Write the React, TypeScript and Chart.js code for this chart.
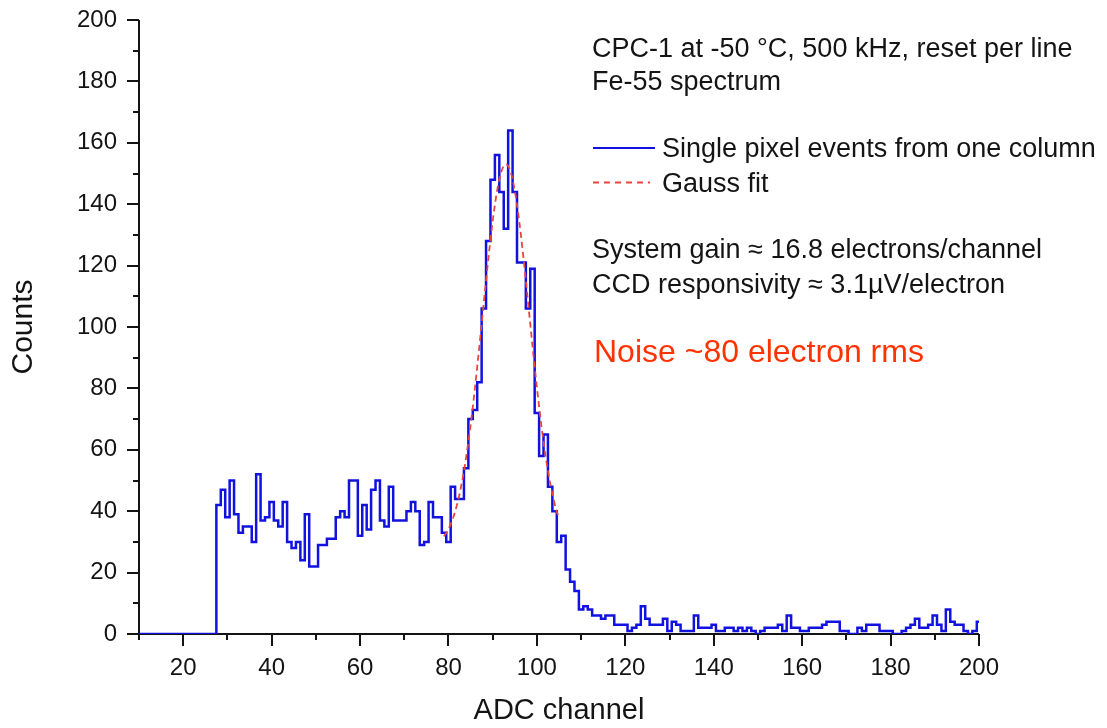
import React, { useEffect, useRef } from 'react';
import { Chart, registerables } from 'chart.js';

Chart.register(...registerables);

// ---- data ----
const FIRST_CHANNEL = 10;
// counts per ADC channel, channels 10..200
const spectrumCounts: number[] = [
  0, 0, 0, 0, 0, 0, 0, 0, 0, 0, 0, 0, 0, 0, 0, 0, 0, 0,
  42, 47, 38, 50, 39, 33, 35, 35, 30, 52,
  37, 38, 43, 37, 35, 43, 30, 28, 30, 24,
  39, 22, 22, 29, 29, 31, 31, 38, 40, 38,
  50, 50, 32, 42, 34, 47, 50, 37, 35, 48,
  37, 37, 37, 40, 43, 40, 29, 30, 43, 38,
  38, 33, 30, 48, 44, 44, 54, 70, 73, 82,
  106, 128, 148, 156, 144, 132, 164, 144, 121, 121,
  106, 119, 72, 58, 65, 48, 40, 30, 32, 21,
  17, 14, 8, 9, 8, 6, 6, 5, 6, 6,
  3, 3, 3, 1, 2, 3, 9, 5, 3, 3,
  3, 5, 1, 4, 3, 1, 1, 1, 6, 2,
  2, 2, 3, 1, 1, 2, 2, 1, 2, 1,
  2, 1, 0, 1, 2, 2, 2, 3, 1, 6,
  2, 2, 1, 1, 2, 2, 2, 3, 4, 4,
  4, 1, 1, 0, 0, 2, 1, 3, 3, 3,
  1, 1, 1, 0, 0, 1, 2, 3, 5, 2,
  2, 3, 6, 3, 1, 8, 4, 3, 3, 1,
  0, 1, 4,
];

const fitChannels: number[] = [
  79, 80, 81, 82, 83, 84, 85, 86, 87, 88, 89, 90, 91, 92,
  93, 94, 95, 96, 97, 98, 99, 100, 101, 102, 103, 104, 105,
];
const fitCounts: number[] = [
  31.8, 34.2, 37.6, 42.5, 49.1, 57.6, 68, 80.3, 93.9, 108.1, 122, 134.5, 144.4, 150.8,
  153, 150.8, 144.4, 134.5, 122, 108.1, 93.9, 80.3, 68, 57.6, 49.1, 42.5, 37.6,
];

const xTickValues: number[] = [20, 40, 60, 80, 100, 120, 140, 160, 180, 200];
const yTickValues: number[] = [0, 20, 40, 60, 80, 100, 120, 140, 160, 180, 200];

const seriesLabels: string[] = ['Single pixel events from one column', 'Gauss fit'];
const headerLines: string[] = ['CPC-1 at -50 °C, 500 kHz, reset per line', 'Fe-55 spectrum'];
const gainLines: string[] = ['System gain ≈ 16.8 electrons/channel', 'CCD responsivity ≈ 3.1µV/electron'];
const noiseNote = 'Noise ~80 electron rms';

// ---- styles ----
const FONT = "'Liberation Sans', Arial, Helvetica, sans-serif";
const BLUE = '#1212e0';
const RED = '#e8453c';
const INK = '#141414';
const NOISE_RED = '#ff3300';

const axesPlugin = {
  id: 'customAxes',
  beforeDatasetsDraw(chart: any) {
    const { ctx, chartArea, scales } = chart;
    const x = scales.x;
    const y = scales.y;
    ctx.save();
    ctx.strokeStyle = INK;
    ctx.lineWidth = 2;
    ctx.beginPath();
    ctx.moveTo(chartArea.left, chartArea.top);
    ctx.lineTo(chartArea.left, chartArea.bottom);
    ctx.lineTo(chartArea.right, chartArea.bottom);
    ctx.stroke();
    ctx.beginPath();
    for (let v = x.min; v <= x.max; v += 10) {
      const px = Math.round(x.getPixelForValue(v));
      const len = v % 20 === 0 ? 12 : 6;
      ctx.moveTo(px, chartArea.bottom);
      ctx.lineTo(px, chartArea.bottom + len);
    }
    for (let v = y.min; v <= y.max; v += 10) {
      const py = Math.round(y.getPixelForValue(v));
      const len = v % 20 === 0 ? 12 : 6;
      ctx.moveTo(chartArea.left - len, py);
      ctx.lineTo(chartArea.left, py);
    }
    ctx.stroke();
    ctx.restore();
  },
  afterDraw(chart: any) {
    const { ctx } = chart;
    ctx.save();
    ctx.fillStyle = INK;
    ctx.textBaseline = 'alphabetic';
    ctx.textAlign = 'left';
    ctx.font = `27px ${FONT}`;
    ctx.fillText(headerLines[0], 592, 57);
    ctx.fillText(headerLines[1], 592, 90);

    // legend
    ctx.strokeStyle = BLUE;
    ctx.lineWidth = 2;
    ctx.beginPath();
    ctx.moveTo(593, 148);
    ctx.lineTo(655, 148);
    ctx.stroke();
    ctx.strokeStyle = RED;
    ctx.lineWidth = 1.8;
    ctx.setLineDash([6, 5]);
    ctx.beginPath();
    ctx.moveTo(593, 182.5);
    ctx.lineTo(650, 182.5);
    ctx.stroke();
    ctx.setLineDash([]);
    ctx.fillText(seriesLabels[0], 662, 157);
    ctx.fillText(seriesLabels[1], 662, 192);

    ctx.fillText(gainLines[0], 592, 258);
    ctx.fillText(gainLines[1], 592, 293);

    ctx.fillStyle = NOISE_RED;
    ctx.font = `32px ${FONT}`;
    ctx.fillText(noiseNote, 594, 362);
    ctx.restore();
  },
};

export default function App() {
  const canvasRef = useRef<HTMLCanvasElement>(null);

  useEffect(() => {
    const canvas = canvasRef.current;
    if (!canvas) return;
    Chart.defaults.font.family = FONT;

    const histogram = spectrumCounts.map((c, i) => ({ x: FIRST_CHANNEL + i, y: c }));
    const fit = fitChannels.map((ch, i) => ({ x: ch, y: fitCounts[i] }));

    const chart = new Chart(canvas, {
      type: 'line',
      data: {
        datasets: [
          {
            label: seriesLabels[1],
            data: fit,
            borderColor: RED,
            borderWidth: 1.8,
            borderDash: [6, 4],
            pointRadius: 0,
            fill: false,
            cubicInterpolationMode: 'monotone',
          },
          {
            label: seriesLabels[0],
            data: histogram,
            borderColor: BLUE,
            borderWidth: 2.5,
            pointRadius: 0,
            fill: false,
            stepped: 'middle',
          },
        ],
      },
      options: {
        responsive: false,
        animation: false,
        devicePixelRatio: 1,
        layout: { padding: { left: 0, top: 20, right: 128, bottom: 0 } },
        plugins: {
          legend: { display: false },
          tooltip: { enabled: false },
        },
        scales: {
          x: {
            type: 'linear',
            min: 10,
            max: 200,
            grid: { display: false, drawTicks: false },
            border: { display: false },
            afterBuildTicks: (scale: any) => {
              scale.ticks = xTickValues.map((v) => ({ value: v }));
            },
            afterFit: (scale: any) => {
              scale.height = 94;
              scale.paddingLeft = 0;
              scale.paddingRight = 0;
            },
            ticks: {
              autoSkip: false,
              maxRotation: 0,
              padding: 20,
              color: INK,
              font: { size: 24, family: FONT },
              callback: (v: any) => String(v),
            },
            title: {
              display: true,
              text: 'ADC channel',
              color: INK,
              font: { size: 29, family: FONT },
              padding: { top: 0, bottom: 0 },
            },
          },
          y: {
            type: 'linear',
            min: 0,
            max: 200,
            grid: { display: false, drawTicks: false },
            border: { display: false },
            afterBuildTicks: (scale: any) => {
              scale.ticks = yTickValues.map((v) => ({ value: v }));
            },
            afterFit: (scale: any) => {
              scale.width = 139;
              scale.paddingTop = 0;
              scale.paddingBottom = 0;
            },
            ticks: {
              padding: 22,
              color: INK,
              font: { size: 24, family: FONT },
              callback: (v: any) => String(v),
            },
            title: {
              display: true,
              text: 'Counts',
              color: INK,
              font: { size: 30, family: FONT },
              padding: { top: 6, bottom: 0 },
            },
          },
        },
      },
      plugins: [axesPlugin],
    } as any);

    return () => chart.destroy();
  }, []);

  return (
    <div style={{ position: 'absolute', left: 0, top: 0, width: 1107, height: 728, background: '#ffffff' }}>
      <canvas ref={canvasRef} width={1107} height={728} style={{ display: 'block' }} />
    </div>
  );
}
